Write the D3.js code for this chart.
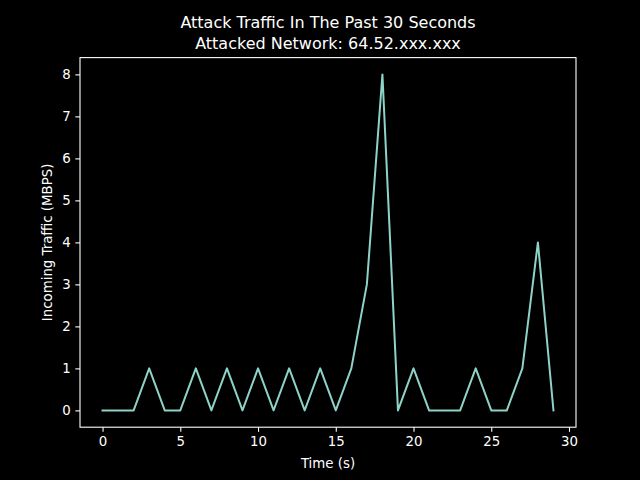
<!DOCTYPE html>
<html>
<head>
<meta charset="utf-8">
<script src="https://cdn.jsdelivr.net/npm/d3@7"></script>
<style>
  body { margin: 0; background: #000; }
  text { font-family: "DejaVu Sans", sans-serif; fill: #fff; }
</style>
</head>
<body>
<div id="chart"></div>
<script>
// seconds and incoming traffic (MBPS)
var seconds = d3.range(0, 30);
var traffic = [0, 0, 0, 1, 0, 0, 1, 0, 1, 0, 1, 0, 1, 0, 1, 0, 1, 3, 8, 0, 1, 0, 0, 0, 1, 0, 0, 1, 4, 0];
var xTicks = [0, 5, 10, 15, 20, 25, 30];
var yTicks = [0, 1, 2, 3, 4, 5, 6, 7, 8];
var titleLines = ["Attack Traffic In The Past 30 Seconds", "Attacked Network: 64.52.xxx.xxx"];

var width = 640, height = 480;
var margin = {top: 57.6, right: 64, bottom: 52.8, left: 80};
var lineColor = "#8dd3c7";

var svg = d3.select("#chart").append("svg")
    .attr("width", width)
    .attr("height", height)
    .style("background", "#000");

// matplotlib style 5% padding on data limits
var xPad = (29 - 0) * 0.05, yPad = 8 * 0.05;
var x = d3.scaleLinear()
    .domain([0 - xPad, 29 + xPad])
    .range([margin.left, width - margin.right]);
var y = d3.scaleLinear()
    .domain([0 - yPad, 8 + yPad])
    .range([height - margin.bottom, margin.top]);

var xAxis = svg.append("g")
    .attr("transform", "translate(0," + (height - margin.bottom) + ")")
    .call(d3.axisBottom(x).tickValues(xTicks).tickSize(4.67).tickPadding(4.67).tickFormat(d3.format("d")));
var yAxis = svg.append("g")
    .attr("transform", "translate(" + margin.left + ",0)")
    .call(d3.axisLeft(y).tickValues(yTicks).tickSize(4.67).tickPadding(4.67).tickFormat(d3.format("d")));

[xAxis, yAxis].forEach(function(g) {
    g.select(".domain").remove();
    g.selectAll(".tick line").attr("stroke", "#fff").attr("stroke-width", 1.1);
    g.selectAll(".tick text").style("font-size", "13.33px").attr("fill", "#fff")
        .style("font-family", "DejaVu Sans, sans-serif");
});

// frame
svg.append("rect")
    .attr("x", margin.left)
    .attr("y", margin.top)
    .attr("width", width - margin.left - margin.right)
    .attr("height", height - margin.top - margin.bottom)
    .attr("fill", "none")
    .attr("stroke", "#fff")
    .attr("stroke-width", 1.1);

var line = d3.line()
    .x(function(d, i) { return x(seconds[i]); })
    .y(function(d) { return y(d); });

svg.append("path")
    .datum(traffic)
    .attr("d", line)
    .attr("fill", "none")
    .attr("stroke", lineColor)
    .attr("stroke-width", 2)
    .attr("stroke-linejoin", "round")
    .attr("stroke-linecap", "square");

// titles
svg.selectAll(".title")
    .data(titleLines)
    .enter().append("text")
    .attr("class", "title")
    .attr("x", (margin.left + width - margin.right) / 2)
    .attr("y", function(d, i) { return 28 + i * 21; })
    .attr("text-anchor", "middle")
    .style("font-size", "16px")
    .text(function(d) { return d; });

svg.append("text")
    .attr("x", (margin.left + width - margin.right) / 2)
    .attr("y", 468)
    .attr("text-anchor", "middle")
    .style("font-size", "13.33px")
    .text("Time (s)");

svg.append("text")
    .attr("transform", "translate(52," + (margin.top + (height - margin.top - margin.bottom) / 2) + ") rotate(-90)")
    .attr("text-anchor", "middle")
    .style("font-size", "13.33px")
    .text("Incoming Traffic (MBPS)");
</script>
</body>
</html>
